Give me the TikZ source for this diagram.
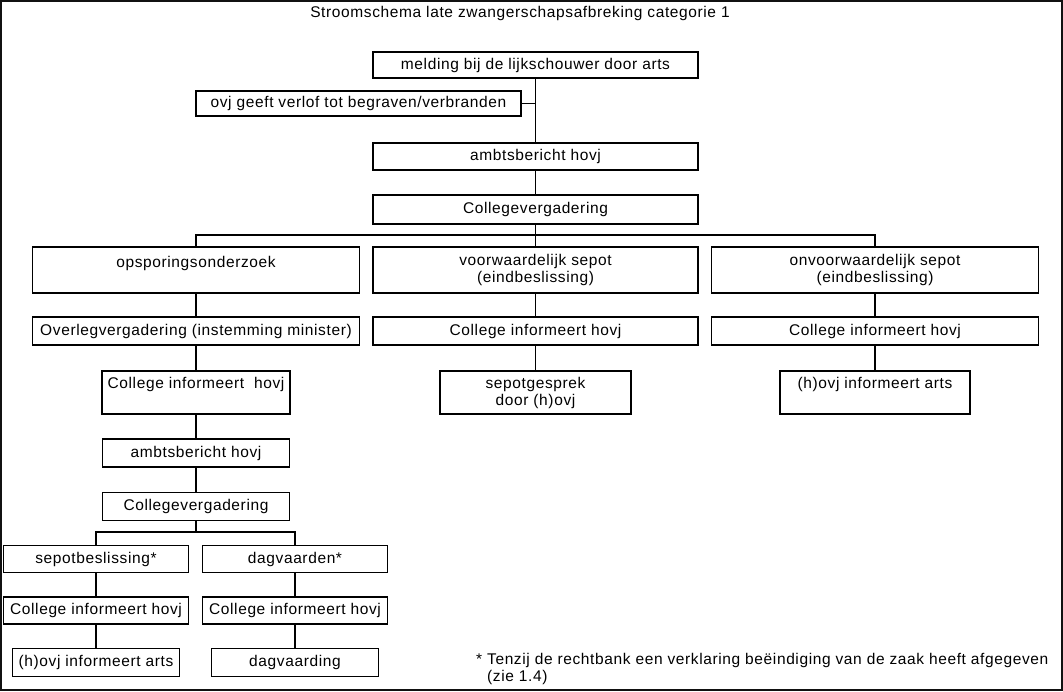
\documentclass[tikz,border=0pt]{standalone}
\usepackage{fontspec}
\setmainfont{Liberation Sans}[LetterSpace=4]
\usepackage{tikz}
\usetikzlibrary{positioning}
\definecolor{schemaInk}{HTML}{000000}
\definecolor{schemaFrame}{HTML}{111111}

\begin{document}
\begin{tikzpicture}[x=1pt,y=-1pt,
  every node/.style={font=\fontsize{15.5}{17}\selectfont},
  box/.style={draw=schemaInk,line width=1.5pt,inner sep=0pt,align=center},
  wide/.style={box,minimum width=325pt},
  narrow/.style={box,minimum width=185pt},
  topline/.style={text depth=#1},
  link/.style={draw=schemaInk,line width=1.2pt}]
  \useasboundingbox (0,0) rectangle (1063,692);
  \draw[schemaFrame,line width=1.6pt] (1,1) rectangle (1062,690);

  \node (title) at (520,13) {Stroomschema late zwangerschapsafbreking categorie 1};

  % melding en verlof
  \node[wide,minimum height=26pt] (melding) at (535.5,65) {melding bij de lijkschouwer door arts};
  \node[wide,minimum height=25pt] (verlof) at (358.5,103.5) {ovj geeft verlof tot begraven/verbranden};
  \node[wide,minimum height=27pt] (ambts) at (535.5,156.5) {ambtsbericht hovj};
  \node[wide,minimum height=29pt] (college) at (535.5,209.5) {Collegevergadering};

  % drie uitkomsten
  \node[wide,minimum width=327pt,minimum height=46pt,topline=17pt] (opsporing) at (196,270) {opsporingsonderzoek};
  \node[wide,minimum height=46pt] (voorw) at (535.5,270) {voorwaardelijk sepot\\(eindbeslissing)};
  \node[wide,minimum width=327pt,minimum height=46pt] (onvoorw) at (875,270) {onvoorwaardelijk sepot\\(eindbeslissing)};

  \node[wide,minimum width=327pt,minimum height=28pt] (overleg) at (196,331) {Overlegvergadering (instemming minister)};
  \node[wide,minimum height=28pt] (infoVoorw) at (535.5,331) {College informeert hovj};
  \node[wide,minimum width=327pt,minimum height=28pt] (infoOnvoorw) at (875,331) {College informeert hovj};

  \node[narrow,minimum width=188pt,minimum height=43pt,topline=19pt] (infoOpsp) at (196,392.5) {College informeert~~hovj};
  \node[narrow,minimum width=191pt,minimum height=43pt] (gesprek) at (535.5,392.5) {sepotgesprek\\door (h)ovj};
  \node[narrow,minimum width=190pt,minimum height=43pt,topline=19pt] (artsOnvoorw) at (875,392.5) {(h)ovj informeert arts};

  % tweede ronde
  \node[narrow,minimum width=187pt,minimum height=28pt] (ambtsTwee) at (196,453) {ambtsbericht hovj};
  \node[narrow,minimum width=187pt,minimum height=28pt] (collegeTwee) at (196,506.5) {Collegevergadering};

  \node[narrow,minimum height=27pt] (sepot) at (96,559) {sepotbeslissing*};
  \node[narrow,minimum height=27pt] (dagvaarden) at (295,559) {dagvaarden*};
  \node[narrow,minimum height=27pt] (infoSepot) at (96,610.5) {College informeert hovj};
  \node[narrow,minimum height=27pt] (infoDag) at (295,610.5) {College informeert hovj};
  \node[narrow,minimum width=167pt,minimum height=28pt] (artsSepot) at (96,662.5) {(h)ovj informeert arts};
  \node[narrow,minimum width=167pt,minimum height=28pt] (dagvaarding) at (295,662.5) {dagvaarding};

  \node[anchor=north west,align=left,inner sep=0pt] (noot) at (476,653)
    {* Tenzij de rechtbank een verklaring beëindiging van de zaak heeft afgegeven\\
     \hspace*{11pt}(zie 1.4)};

  % verbindingen
  \coordinate (splitsing) at (535.5,235);
  \coordinate (splitsingTwee) at (196,532);
  \draw[link] (melding) -- (ambts);
  \draw[link] (verlof.east) -- (verlof.east -| melding.south);
  \draw[link] (ambts) -- (college);
  \draw[link] (college) -- (splitsing);
  \draw[link] (opsporing.north) |- (splitsing) -| (onvoorw.north);
  \draw[link] (splitsing) -- (voorw);
  \draw[link] (opsporing) -- (overleg);
  \draw[link] (overleg) -- (infoOpsp);
  \draw[link] (infoOpsp) -- (ambtsTwee);
  \draw[link] (ambtsTwee) -- (collegeTwee);
  \draw[link] (collegeTwee) -- (splitsingTwee);
  \draw[link] (sepot.north) |- (splitsingTwee) -| (dagvaarden.north);
  \draw[link] (sepot) -- (infoSepot);
  \draw[link] (infoSepot) -- (artsSepot);
  \draw[link] (dagvaarden) -- (infoDag);
  \draw[link] (infoDag) -- (dagvaarding);
  \draw[link] (voorw) -- (infoVoorw);
  \draw[link] (infoVoorw) -- (gesprek);
  \draw[link] (onvoorw) -- (infoOnvoorw);
  \draw[link] (infoOnvoorw) -- (artsOnvoorw);
\end{tikzpicture}
\end{document}
